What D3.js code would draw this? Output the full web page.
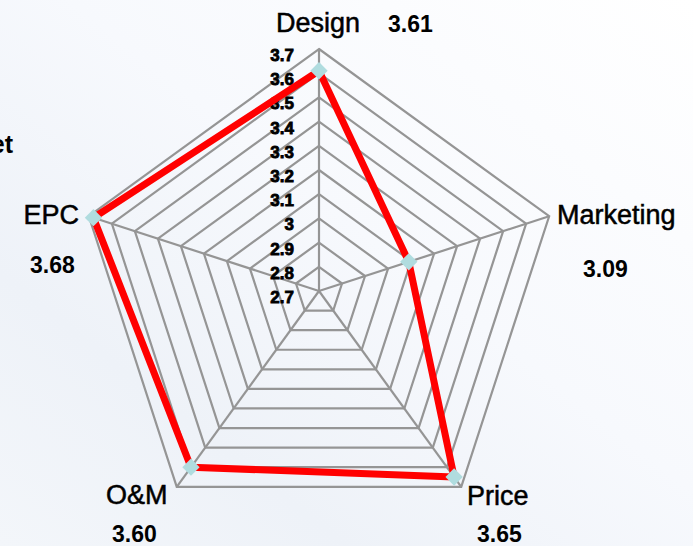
<!DOCTYPE html>
<html>
<head>
<meta charset="utf-8">
<script src="https://cdn.jsdelivr.net/npm/d3@7"></script>
<style>
  html, body { margin: 0; padding: 0; background: #fff; }
  svg { display: block; }
  text { font-family: "Liberation Sans", Arial, sans-serif; fill: #000; }
</style>
</head>
<body>
<div id="chart"></div>
<script>
// radar data
var categories = ["Design", "Marketing", "Price", "O&M", "EPC"];
var values = [3.61, 3.09, 3.65, 3.60, 3.68];
var valueLabels = ["3.61", "3.09", "3.65", "3.60", "3.68"];
var ticks = [2.7, 2.8, 2.9, 3, 3.1, 3.2, 3.3, 3.4, 3.5, 3.6, 3.7];

var W = 693, H = 546;
var cx = 319, cy = 291, R = 242;

var svg = d3.select("#chart").append("svg")
    .attr("width", W)
    .attr("height", H);

// soft bluish background
var defs = svg.append("defs");
var bg = defs.append("linearGradient")
    .attr("id", "bg")
    .attr("x1", "1").attr("y1", "0")
    .attr("x2", "0").attr("y2", "1");
bg.append("stop").attr("offset", "0").attr("stop-color", "#ffffff");
bg.append("stop").attr("offset", "0.45").attr("stop-color", "#f7f9fd");
bg.append("stop").attr("offset", "0.75").attr("stop-color", "#eef2f8");
bg.append("stop").attr("offset", "1").attr("stop-color", "#f3f6fa");
svg.append("rect").attr("width", W).attr("height", H).attr("fill", "url(#bg)");

var rScale = d3.scaleLinear().domain([2.7, 3.7]).range([0, R]);
var angle = d3.scaleBand().domain(categories).range([0, 2 * Math.PI]);

function pt(cat, v) {
    var a = angle(cat);
    var r = rScale(v);
    return [cx + r * Math.sin(a), cy - r * Math.cos(a)];
}

// grid rings
var grid = svg.append("g").attr("class", "grid");
grid.selectAll("path.ring")
    .data(ticks.slice(1))
    .enter().append("path")
    .attr("class", "ring")
    .attr("d", function (t) {
        return d3.line()(categories.map(function (c) { return pt(c, t); })) + "Z";
    })
    .attr("fill", "none")
    .attr("stroke", "#959595")
    .attr("stroke-width", 2.2);

grid.selectAll("line.spoke")
    .data(categories)
    .enter().append("line")
    .attr("class", "spoke")
    .attr("x1", cx).attr("y1", cy)
    .attr("x2", function (c) { return pt(c, 3.7)[0]; })
    .attr("y2", function (c) { return pt(c, 3.7)[1]; })
    .attr("stroke", "#959595")
    .attr("stroke-width", 2.2);

// tick labels along the top axis
svg.append("g").selectAll("text")
    .data(ticks)
    .enter().append("text")
    .attr("x", cx - 25)
    .attr("y", function (t) { return cy - rScale(t) + 12; })
    .attr("text-anchor", "end")
    .style("font-size", "17px")
    .style("font-weight", "bold")
    .style("stroke", "#000")
    .style("stroke-width", 0.8)
    .text(function (t) { return t; });

// series
var pts = categories.map(function (c, i) { return pt(c, values[i]); });
svg.append("path")
    .attr("d", d3.line()(pts) + "Z")
    .attr("fill", "none")
    .attr("stroke", "#ff0000")
    .attr("stroke-width", 7)
    .attr("stroke-linejoin", "round");

svg.append("g").selectAll("path")
    .data(pts)
    .enter().append("path")
    .attr("transform", function (p) { return "translate(" + p[0] + "," + p[1] + ") rotate(45)"; })
    .attr("d", d3.symbol().type(d3.symbolSquare).size(150))
    .attr("fill", "#b0dcdf");

// category and value labels
var labelPos = [
    { x: 318, y: 32, anchor: "middle", vx: 388, vy: 32 },
    { x: 557, y: 224, anchor: "start", vx: 583, vy: 277 },
    { x: 467, y: 505, anchor: "start", vx: 477, vy: 542 },
    { x: 106, y: 504, anchor: "start", vx: 112, vy: 542 },
    { x: 79, y: 224, anchor: "end", vx: 30, vy: 273 }
];

var lab = svg.append("g");
lab.selectAll("text.cat")
    .data(categories)
    .enter().append("text")
    .attr("class", "cat")
    .attr("x", function (d, i) { return labelPos[i].x; })
    .attr("y", function (d, i) { return labelPos[i].y; })
    .attr("text-anchor", function (d, i) { return labelPos[i].anchor; })
    .style("font-size", "27px")
    .style("stroke", "#000")
    .style("stroke-width", 0.5)
    .text(function (d) { return d; });

lab.selectAll("text.val")
    .data(valueLabels)
    .enter().append("text")
    .attr("class", "val")
    .attr("x", function (d, i) { return labelPos[i].vx; })
    .attr("y", function (d, i) { return labelPos[i].vy; })
    .style("font-size", "23px")
    .style("font-weight", "bold")
    .text(function (d) { return d; });

// cut-off legend text at the left edge
svg.append("text")
    .attr("x", 13).attr("y", 153)
    .attr("text-anchor", "end")
    .style("font-size", "25px")
    .style("font-weight", "bold")
    .text("et");
</script>
</body>
</html>
